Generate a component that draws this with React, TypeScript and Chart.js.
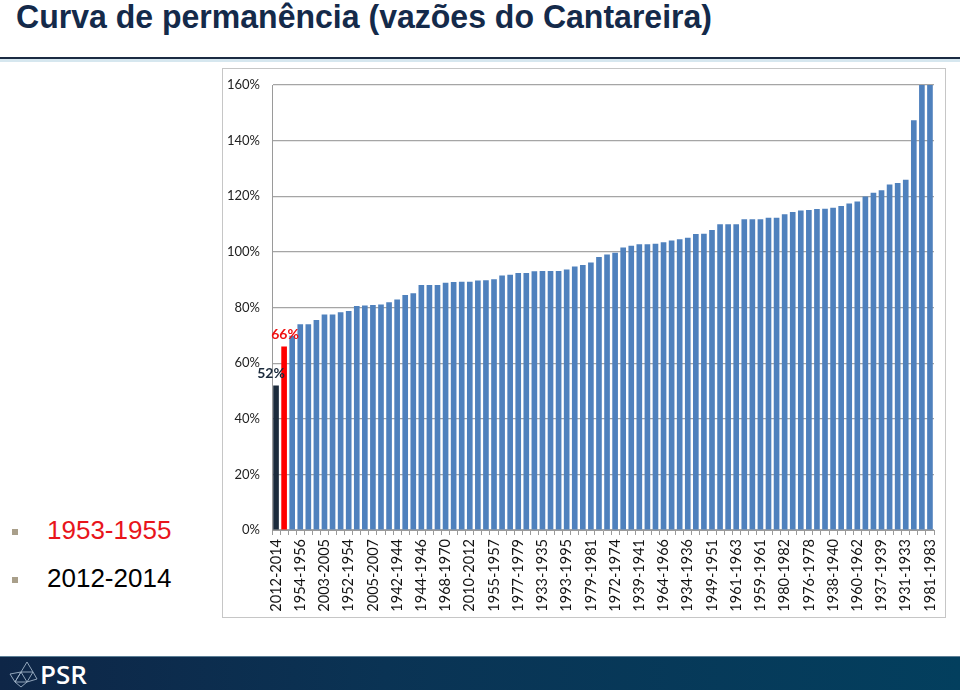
import React, { useEffect, useRef } from "react";
import { Chart, registerables } from "chart.js";

Chart.register(...registerables);

// Labelled periods shown on the x axis (every third bar)
const labeledPeriods = [
  "2012-2014", "1954-1956", "2003-2005", "1952-1954", "2005-2007", "1942-1944",
  "1944-1946", "1968-1970", "2010-2012", "1955-1957", "1977-1979", "1933-1935",
  "1993-1995", "1979-1981", "1972-1974", "1939-1941", "1964-1966", "1934-1936",
  "1949-1951", "1961-1963", "1959-1961", "1980-1982", "1976-1978", "1938-1940",
  "1960-1962", "1937-1939", "1931-1933", "1981-1983",
];
const highlightedPeriod = "1953-1955"; // second bar (red)

// Inflow as % of average, sorted ascending (82 two-year windows)
const flowPercent = [
  52, 66, 69.8, 74, 74, 75.5, 77.5, 77.5, 78.3, 78.7,
  80.5, 80.7, 80.9, 81.1, 81.9, 82.9, 84.5, 85.1, 88.1, 88.1,
  88.1, 88.9, 89.2, 89.3, 89.3, 89.7, 89.8, 90.2, 91.5, 91.8,
  92.4, 92.4, 93.0, 93.1, 93.1, 93.1, 93.7, 94.7, 95.3, 96.2,
  98.2, 99.1, 99.7, 101.6, 102.2, 102.7, 102.7, 102.9, 103.5, 104.1,
  104.5, 105.1, 106.4, 106.5, 107.9, 109.9, 109.9, 109.9, 111.7, 111.7,
  111.7, 112.3, 112.3, 113.5, 114.3, 114.9, 115.1, 115.4, 115.5, 115.9,
  116.5, 117.4, 118.1, 119.9, 121.3, 122.2, 124.2, 124.8, 125.9, 147.3,
  160, 160,
];

const yTicks = [0, 20, 40, 60, 80, 100, 120, 140, 160];

const categories = flowPercent.map((_, i) =>
  i % 3 === 0 ? labeledPeriods[i / 3] : i === 1 ? highlightedPeriod : ""
);

const NAVY = "#1c2b3c";
const RED = "#ff0000";
const BLUE = "#4f81bd";

const barColors = flowPercent.map((_, i) => (i === 0 ? NAVY : i === 1 ? RED : BLUE));

const valueLabels = [
  { index: 0, text: "52%", color: NAVY, dx: -5 },
  { index: 1, text: "66%", color: "#f01010", dx: 1 },
];

const labelPlugin = {
  id: "valueLabels",
  afterDatasetsDraw(chart: any) {
    const meta = chart.getDatasetMeta(0);
    const ctx = chart.ctx;
    ctx.save();
    ctx.font = "bold 14px Lato, 'Open Sans', sans-serif";
    ctx.textAlign = "center";
    ctx.textBaseline = "alphabetic";
    valueLabels.forEach((l) => {
      const el = meta.data[l.index];
      if (!el) return;
      ctx.fillStyle = l.color;
      ctx.fillText(l.text, el.x + l.dx, el.y - 7);
    });
    ctx.restore();
  },
};

function ChartBox() {
  const ref = useRef<HTMLCanvasElement | null>(null);
  useEffect(() => {
    if (!ref.current) return;
    const chart = new Chart(ref.current, {
      type: "bar",
      data: {
        labels: categories,
        datasets: [
          {
            data: flowPercent,
            backgroundColor: barColors,
            barPercentage: 0.7,
            categoryPercentage: 1,
          },
        ],
      },
      options: {
        responsive: false,
        animation: false,
        layout: { padding: { top: 16, right: 11, left: 0, bottom: 0 } },
        plugins: { legend: { display: false }, tooltip: { enabled: false } },
        scales: {
          x: {
            offset: true,
            grid: {
              display: true,
              drawOnChartArea: false,
              drawTicks: true,
              tickLength: 5,
              offset: true,
              color: "#9a9a9a",
            },
            border: { display: true, color: "#9a9a9a", width: 1 },
            ticks: {
              autoSkip: false,
              maxRotation: 90,
              minRotation: 90,
              padding: 4,
              color: "#111",
              font: { family: "Lato, 'Open Sans', sans-serif", size: 14.5 },
              callback: (_v: any, i: number) => (i % 3 === 0 ? categories[i] : ""),
            },
            afterFit: (axis: any) => {
              axis.height = 87;
              axis.paddingLeft = 0;
              axis.paddingRight = 0;
            },
          },
          y: {
            min: 0,
            max: 160,
            afterBuildTicks: (axis: any) => {
              axis.ticks = yTicks.map((v) => ({ value: v }));
            },
            grid: { color: "#a5a5a5", lineWidth: 1.2, drawTicks: false },
            border: { display: true, color: "#9a9a9a", width: 1 },
            ticks: {
              padding: 12,
              color: "#222",
              font: { family: "Lato, 'Open Sans', sans-serif", size: 13 },
              callback: (v: any) => v + "%",
            },
            afterFit: (axis: any) => {
              axis.width = 49;
              axis.paddingTop = 0;
              axis.paddingBottom = 0;
            },
          },
        },
      },
      plugins: [labelPlugin],
    });
    return () => chart.destroy();
  }, []);
  return <canvas ref={ref} width={722} height={548} style={{ display: "block" }} />;
}

function Title() {
  const ref = useRef<HTMLSpanElement | null>(null);
  useEffect(() => {
    const el = ref.current;
    if (!el) return;
    el.style.transform = "none";
    const w = el.getBoundingClientRect().width;
    if (w > 0) el.style.transform = `scaleX(${696 / w})`;
  }, []);
  return (
    <span
      ref={ref}
      style={{
        position: "absolute",
        left: 16,
        top: -3,
        whiteSpace: "nowrap",
        fontFamily: "'Liberation Sans', Arial, sans-serif",
        fontWeight: "bold",
        fontSize: 33,
        lineHeight: "40px",
        color: "#142a4a",
        transformOrigin: "left top",
        display: "inline-block",
      }}
    >
      Curva de permanência (vazões do Cantareira)
    </span>
  );
}

function Logo() {
  const c = "#9fb2c6";
  return (
    <svg width={30} height={28} style={{ position: "absolute", left: 8, top: 660 }} viewBox="0 0 30 28">
      <g stroke={c} strokeWidth={0.9} fill="none">
        <polygon points="19,2 25,12 13,12" />
        <polygon points="13,12 19,22 7,22" />
        <polygon points="25,12 29,19 19,22" />
        <polygon points="7,22 13,12 2,14" />
        <line x1="19" y1="22" x2="13" y2="27" />
        <line x1="7" y1="22" x2="13" y2="27" />
      </g>
    </svg>
  );
}

export default function App() {
  return (
    <div
      style={{
        position: "absolute",
        left: 0,
        top: 0,
        width: 960,
        height: 690,
        background: "#fff",
        overflow: "hidden",
      }}
    >
      <Title />
      <div style={{ position: "absolute", left: 0, top: 57, width: 960, height: 2, background: "#1b2b42" }} />
      <div style={{ position: "absolute", left: 0, top: 59, width: 960, height: 3, background: "#d6e7ef" }} />

      <div
        style={{
          position: "absolute",
          left: 222,
          top: 68,
          width: 724,
          height: 550,
          boxSizing: "border-box",
          border: "1px solid #c6c6c6",
        }}
      >
        <ChartBox />
      </div>

      <div style={{ position: "absolute", left: 12, top: 529, width: 6, height: 6, background: "#a99f8a" }} />
      <div
        style={{
          position: "absolute",
          left: 47,
          top: 515,
          fontFamily: "'Liberation Sans', Arial, sans-serif",
          fontSize: 26,
          lineHeight: "30px",
          color: "#e8141b",
        }}
      >
        1953-1955
      </div>
      <div style={{ position: "absolute", left: 12, top: 577, width: 6, height: 6, background: "#a99f8a" }} />
      <div
        style={{
          position: "absolute",
          left: 47,
          top: 563,
          fontFamily: "'Liberation Sans', Arial, sans-serif",
          fontSize: 26,
          lineHeight: "30px",
          color: "#000",
        }}
      >
        2012-2014
      </div>

      <div
        style={{
          position: "absolute",
          left: 0,
          top: 656,
          width: 960,
          height: 34,
          background: "linear-gradient(to right, #0e2647 0%, #0a3354 40%, #033f5e 100%)",
          borderTop: "1px solid #5d7f96",
          boxSizing: "border-box",
        }}
      />
      <Logo />
      <div
        style={{
          position: "absolute",
          left: 40,
          top: 658,
          fontFamily: "'Open Sans', sans-serif",
          fontWeight: 600,
          fontSize: 26,
          lineHeight: "32px",
          color: "#fff",
        }}
      >
        PSR
      </div>
    </div>
  );
}
